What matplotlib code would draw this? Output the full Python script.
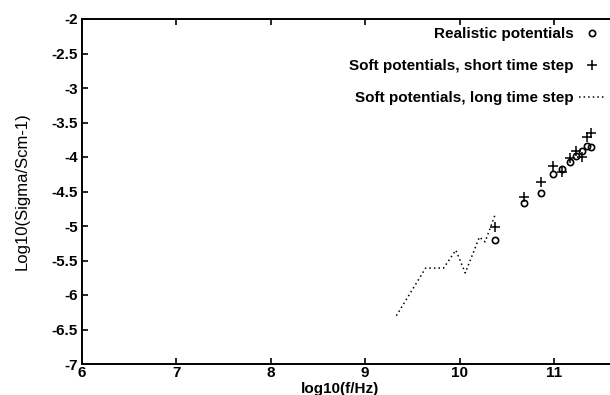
import matplotlib
matplotlib.use("Agg")
import matplotlib.pyplot as plt
from matplotlib.ticker import FormatStrFormatter

plt.rcParams["font.family"] = ["Liberation Sans", "DejaVu Sans"]
plt.rcParams["axes.unicode_minus"] = False

# Realistic potentials (diamonds)
real_x = [10.37, 10.68, 10.86, 10.99, 11.09, 11.17, 11.23, 11.30, 11.35, 11.39]
real_y = [-5.21, -4.66, -4.52, -4.25, -4.18, -4.07, -3.99, -3.91, -3.84, -3.85]

# Soft potentials, short time step (plus)
short_x = [10.37, 10.68, 10.86, 10.99, 11.09, 11.17, 11.23, 11.30, 11.35, 11.39]
short_y = [-5.02, -4.58, -4.36, -4.13, -4.22, -4.02, -3.91, -4.00, -3.71, -3.65]

# Soft potentials, long time step (dotted line)
long_x = [9.33, 9.64, 9.83, 9.96, 10.06, 10.21, 10.27, 10.375]
long_y = [-6.30, -5.61, -5.61, -5.35, -5.68, -5.16, -5.23, -4.84]

x_ticks = [6, 7, 8, 9, 10, 11]
y_ticks = [-2, -2.5, -3, -3.5, -4, -4.5, -5, -5.5, -6, -6.5, -7]

W, H = 610, 395
fig = plt.figure(figsize=(W / 100, H / 100), dpi=100)
ax = fig.add_axes([82 / W, 1 - 364 / H, 1 - 82 / W, (364 - 19) / H])

ax.plot(real_x, real_y, linestyle="none", marker="o", ms=4.5, mfc="none",
        mec="black", mew=1.2, label="Realistic potentials")
ax.plot(short_x, short_y, linestyle="none", marker="+", ms=7, color="black",
        mew=1.1, label="Soft potentials, short time step")
ax.plot(long_x, long_y, linestyle=(0, (1, 2)), color="black", lw=1.1,
        label="Soft potentials, long time step")

ax.set_xlim(6, 6 + 528 / 94.4)
ax.set_ylim(-7, -2)
ax.set_xticks(x_ticks)
ax.set_yticks(y_ticks)
ax.yaxis.set_major_formatter(FormatStrFormatter("%g"))
ax.tick_params(direction="in", length=4, width=1.2, top=True, right=False,
               labelsize=11, pad=3)
ax.tick_params(axis="x", pad=1.5)
for lab in ax.get_xticklabels() + ax.get_yticklabels():
    lab.set_fontweight("bold")
for side in ("left", "bottom", "top"):
    ax.spines[side].set_linewidth(1.4)
ax.spines["right"].set_visible(False)

ax.set_xlabel("log10(f/Hz)", fontsize=11, fontweight="bold")
ax.set_ylabel("Log10(Sigma/Scm-1)", fontsize=12)
ax.xaxis.set_label_coords((340 - 82) / (W - 82), -(382 - 364) / (364 - 19))
ax.yaxis.set_label_coords(-(82 - 30) / (W - 82), 0.5)

leg = ax.legend(loc="upper right", bbox_to_anchor=(606 / W, 1 - 27 / H),
                bbox_transform=fig.transFigure, frameon=False, markerfirst=False,
                fontsize=11, handlelength=1.8, handletextpad=0.3,
                labelspacing=1.18, borderpad=0, borderaxespad=0)
for t in leg.get_texts():
    t.set_fontweight("bold")

fig.savefig("out.png", dpi=100)
